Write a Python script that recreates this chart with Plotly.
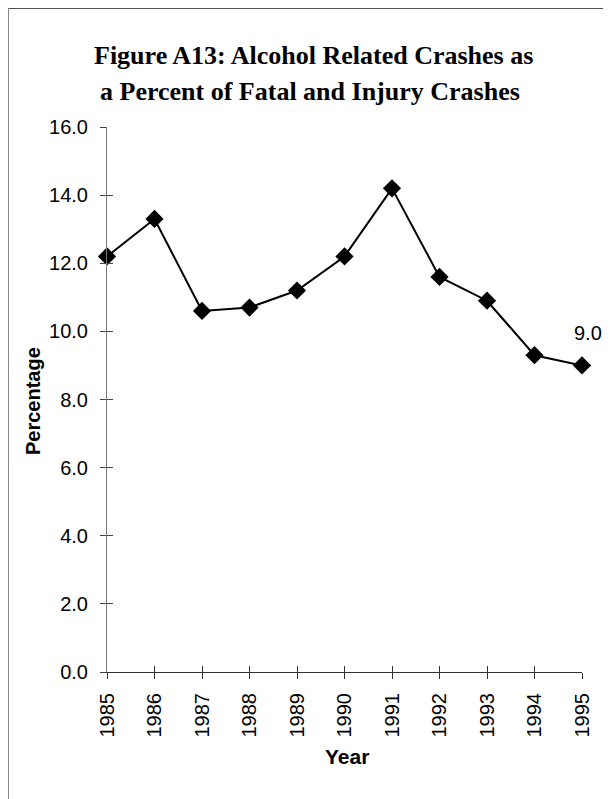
import plotly.graph_objects as go

years = [1985, 1986, 1987, 1988, 1989, 1990, 1991, 1992, 1993, 1994, 1995]
percent = [12.2, 13.3, 10.6, 10.7, 11.2, 12.2, 14.2, 11.6, 10.9, 9.3, 9.0]
y_ticks = [0, 2, 4, 6, 8, 10, 12, 14, 16]
title_lines = ["Figure A13: Alcohol Related Crashes as",
               "a Percent of Fatal and Injury Crashes"]
last_label = "9.0"

# window-pixel geometry of the plot area (page body has an 8px margin)
PX_L, PX_R, PX_T, PX_B = 107, 582, 127, 672
BODY = 8
W, H = 611, 799


def px(X):
    return (X - PX_L) / (PX_R - PX_L)


def py(Y):
    return (PX_B - Y) / (PX_B - PX_T)


fig = go.Figure()
fig.add_trace(go.Scatter(
    x=years, y=percent, mode="lines+markers",
    line=dict(color="black", width=2),
    marker=dict(symbol="diamond", size=14, color="black"),
    cliponaxis=False, showlegend=False,
))

tickfont = dict(family="Liberation Sans, Arial", size=20, color="black")

fig.update_layout(
    width=W - BODY, height=H - BODY,
    margin=dict(l=PX_L - BODY, r=W - PX_R, t=PX_T - BODY, b=H - PX_B),
    paper_bgcolor="white", plot_bgcolor="white",
    xaxis=dict(range=[1985, 1995], tickvals=years, ticktext=[str(y) for y in years],
               tickangle=-90, ticks="outside", ticklen=6, tickcolor="#333",
               showline=True, linecolor="#333", linewidth=1, showgrid=False,
               zeroline=False, tickfont=tickfont, ticklabelstandoff=6),
    yaxis=dict(range=[0, 16], tickvals=y_ticks, tickformat=".1f",
               ticks="outside", ticklen=6, tickcolor="#444",
               showline=True, linecolor="#777", linewidth=1, showgrid=False,
               zeroline=False, tickfont=tickfont, ticklabelstandoff=8),
    xaxis2=dict(range=[1985, 1995], tickvals=years, overlaying="x", anchor="y",
                side="bottom", ticks="inside", ticklen=6, tickcolor="#333",
                showticklabels=False, showline=False, showgrid=False, zeroline=False),
    yaxis2=dict(range=[0, 16], tickvals=y_ticks, overlaying="y", anchor="x",
                side="left", ticks="inside", ticklen=6, tickcolor="#444",
                showticklabels=False, showline=False, showgrid=False, zeroline=False),
)

# invisible trace to activate overlay axes
fig.add_trace(go.Scatter(x=[years[0]], y=[percent[0]], xaxis="x2", yaxis="y2",
                         mode="markers", marker=dict(opacity=0), hoverinfo="skip",
                         showlegend=False))

title_font = dict(family="Liberation Serif, Times New Roman", size=26, color="black")
fig.add_annotation(text="<b>%s</b>" % title_lines[0], xref="paper", yref="paper",
                   x=px(313), y=py(56), showarrow=False,
                   xanchor="center", yanchor="middle", font=title_font)
fig.add_annotation(text="<b>%s</b>" % title_lines[1], xref="paper", yref="paper",
                   x=px(310), y=py(91), showarrow=False,
                   xanchor="center", yanchor="middle", font=title_font)

fig.add_annotation(text="<b>Percentage</b>", xref="paper", yref="paper",
                   x=px(33), y=py(401), textangle=-90,
                   showarrow=False, xanchor="center", yanchor="middle",
                   font=dict(family="Liberation Sans, Arial", size=20, color="black"))
fig.add_annotation(text="<b>Year</b>", xref="paper", yref="paper",
                   x=px(347), y=py(756),
                   showarrow=False, xanchor="center", yanchor="middle",
                   font=dict(family="Liberation Sans, Arial", size=21, color="black"))

fig.add_annotation(text=last_label, x=years[-1], y=percent[-1], showarrow=False,
                   xshift=6, yshift=32, font=dict(family="Liberation Sans, Arial",
                                                   size=20, color="black"))

# scan frame lines at the top and left edges
fig.add_shape(type="line", xref="paper", yref="paper",
              x0=px(BODY), x1=px(W),
              y0=py(BODY + 0.5), y1=py(BODY + 0.5),
              line=dict(color="#555", width=1))
fig.add_shape(type="line", xref="paper", yref="paper",
              x0=px(BODY + 0.5), x1=px(BODY + 0.5),
              y0=py(BODY), y1=py(H),
              line=dict(color="#888", width=1))

fig.write_html("out.html")
